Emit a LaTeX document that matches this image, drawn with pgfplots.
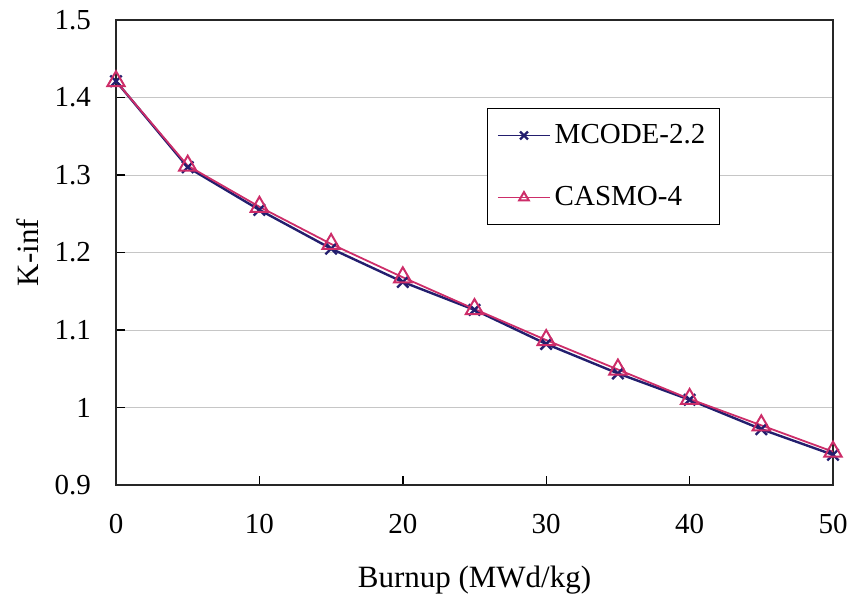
\documentclass[border=0pt]{standalone}
\usepackage{pgfplots}
\pgfplotsset{compat=1.18}
\usepackage{fontspec}
\setmainfont{Liberation Serif}
\definecolor{mcode}{RGB}{35,30,110}
\definecolor{casmo}{RGB}{205,45,105}
\begin{document}
\begin{tikzpicture}
\useasboundingbox (-58pt,-57.5pt) rectangle (367pt,242.5pt);
\begin{axis}[
  scale only axis,
  width=358.5pt, height=232.5pt,
  at={(0,0)}, anchor=south west,
  xmin=0, xmax=50, ymin=0.9, ymax=1.5,
  xtick={0,10,20,30,40,50},
  ytick={0.9,1.0,1.1,1.2,1.3,1.4,1.5},
  yticklabels={0.9,1,1.1,1.2,1.3,1.4,1.5},
  tick align=inside,
  major tick length=4.5pt,
  xtick pos=bottom, ytick pos=left,
  ymajorgrids,
  grid style={gray!45, line width=0.5pt},
  axis line style={black!85, line width=0.7pt},
  tick style={black, line width=0.7pt},
  /pgf/number format/assume math mode=true,
  ticklabel style={font=\fontsize{14.5}{16}\selectfont},
  xticklabel style={yshift=-11pt},
  yticklabel style={xshift=-9pt},
  xlabel={Burnup (MWd/kg)},
  ylabel={K-inf},
  label style={font=\fontsize{15.5}{17}\selectfont},
  xlabel style={at={(axis description cs:0.5,0)}, anchor=center, yshift=-47.5pt},
  ylabel style={at={(axis description cs:0,0.5)}, anchor=center},
  every axis y label/.append style={yshift=44pt},
  legend style={at={(0.517,0.811)}, anchor=north west, draw=black, line width=0.5pt,
    font=\fontsize{14.5}{16}\selectfont, row sep=16pt, inner xsep=5pt, inner ysep=6pt},
  legend cell align=left,
  legend image code/.code={%
    \draw[mark repeat=2,mark phase=2,#1,line width=0.6pt,mark size=2.8pt] plot coordinates {(0cm,0cm)(0.46cm,0cm)(0.92cm,0cm)};},
]
\addplot[mcode, line width=1.2pt, mark=x, mark size=4pt, mark options={line width=1.2pt}]
  coordinates {(0,1.421)(5,1.310)(10,1.255)(15,1.205)(20,1.162)(25,1.126)(30,1.082)(35,1.044)(40,1.010)(45,0.972)(50,0.939)};
\addlegendentry{MCODE-2.2}
\addplot[casmo, line width=0.9pt, mark=triangle, mark size=5pt, mark options={line width=1pt, fill=white}]
  coordinates {(0,1.421)(5,1.312)(10,1.259)(15,1.211)(20,1.168)(25,1.127)(30,1.087)(35,1.049)(40,1.011)(45,0.977)(50,0.943)};
\addlegendentry{CASMO-4}
\end{axis}
\end{tikzpicture}
\end{document}
